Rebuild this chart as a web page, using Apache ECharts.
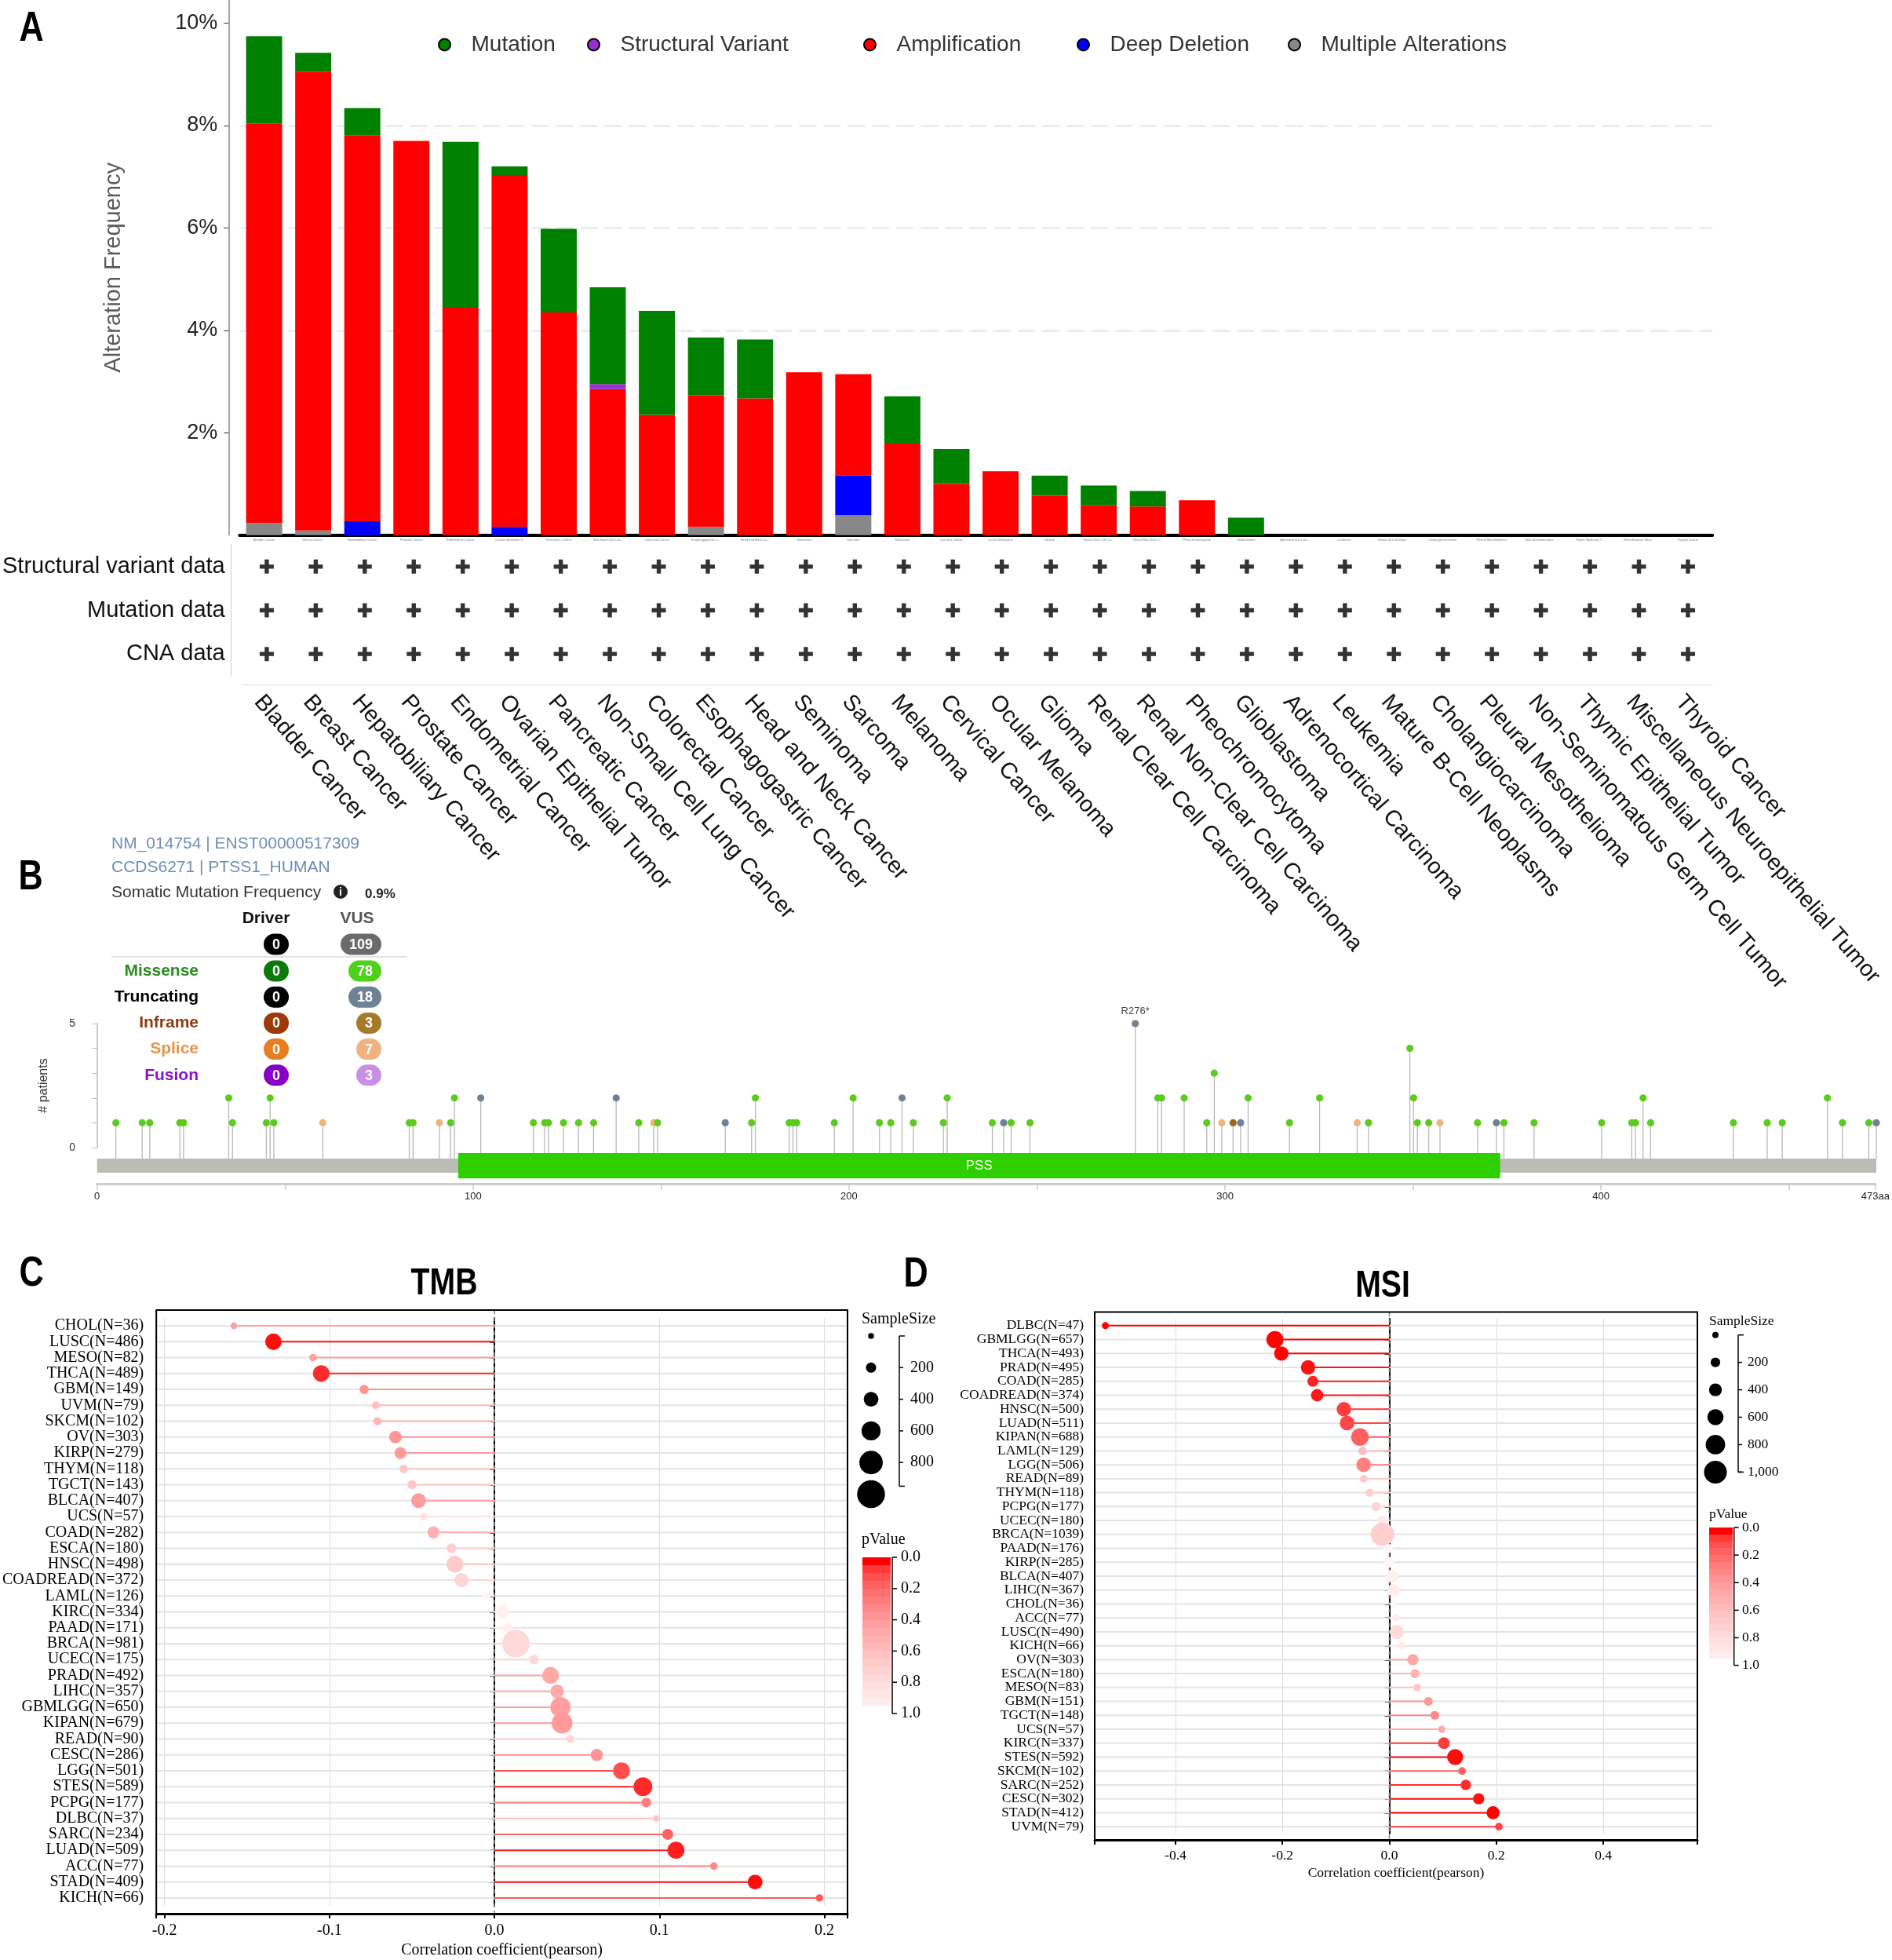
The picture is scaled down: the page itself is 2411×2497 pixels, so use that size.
<!DOCTYPE html>
<html>
<head>
<meta charset="utf-8">
<script src="https://cdn.jsdelivr.net/npm/echarts@6/dist/echarts.min.js"></script>
<style>
html,body{margin:0;padding:0;background:#fff;}
#chart{width:2411px;height:2497px;}
</style>
</head>
<body>
<div id="chart"></div>
<script>
const SANS = 'Liberation Sans, Arial, sans-serif';
const SERIF = 'Liberation Serif, Times New Roman, serif';

// ---------------- Panel A data (alteration frequency, %) ----------------
const cancerTypes = ['Bladder Cancer','Breast Cancer','Hepatobiliary Cancer','Prostate Cancer','Endometrial Cancer','Ovarian Epithelial Tumor','Pancreatic Cancer','Non-Small Cell Lung Cancer','Colorectal Cancer','Esophagogastric Cancer','Head and Neck Cancer','Seminoma','Sarcoma','Melanoma','Cervical Cancer','Ocular Melanoma','Glioma','Renal Clear Cell Carcinoma','Renal Non-Clear Cell Carcinoma','Pheochromocytoma','Glioblastoma','Adrenocortical Carcinoma','Leukemia','Mature B-Cell Neoplasms','Cholangiocarcinoma','Pleural Mesothelioma','Non-Seminomatous Germ Cell Tumor','Thymic Epithelial Tumor','Miscellaneous Neuroepithelial Tumor','Thyroid Cancer'];
const mutationFreq = [1.71,0.37,0.54,0,3.24,0.17,1.63,1.89,2.03,1.13,1.15,0,0,0.92,0.68,0,0.39,0.39,0.30,0,0.34,0,0,0,0,0,0,0,0,0];
const structuralVariantFreq = [0,0,0,0,0,0,0,0.10,0,0,0,0,0,0,0,0,0,0,0,0,0,0,0,0,0,0,0,0,0,0];
const amplificationFreq = [7.79,8.96,7.53,7.70,4.44,6.87,4.35,2.85,2.35,2.57,2.67,3.18,1.97,1.79,1.00,1.25,0.77,0.58,0.56,0.68,0,0,0,0,0,0,0,0,0,0];
const deepDeletionFreq = [0,0,0.27,0,0,0.16,0,0,0,0,0,0,0.78,0,0,0,0,0,0,0,0,0,0,0,0,0,0,0,0,0];
const multipleAlterationsFreq = [0.24,0.09,0,0,0,0,0,0,0,0.16,0,0,0.39,0,0,0,0,0,0,0,0,0,0,0,0,0,0,0,0,0];
const alterationTypes = ['Mutation','Structural Variant','Amplification','Deep Deletion','Multiple Alterations'];
const alterationTicks = [2,4,6,8,10];
const profileRows = ['Structural variant data','Mutation data','CNA data'];

// ---------------- Panel B data (PTSS1 mutations) ----------------
const proteinLength = 473;
const domainNames = ['PSS'];
const domainStarts = [96];
const domainEnds = [373];
const mutPositions = [5,12,14,22,23,35,36,45,46,47,60,83,84,91,94,95,102,116,119,120,124,128,132,138,144,148,149,167,174,175,184,185,186,196,201,208,211,214,217,225,226,238,241,243,248,276,282,283,289,295,297,299,302,304,306,317,325,335,338,349,350,351,354,357,367,372,374,382,400,408,409,411,413,435,444,448,460,464,471,473];
const mutCounts    = [1,1,1,1,1,2,1,1,2,1,1,1,1,1,1,2,2,1,1,1,1,1,1,2,1,1,1,1,1,2,1,1,1,1,2,1,1,2,1,1,2,1,1,1,1,5,2,2,2,1,3,1,1,1,2,1,2,1,1,4,2,1,1,1,1,1,1,1,1,1,1,2,1,1,1,1,2,1,1,1];
const mutTypes     = ['M','M','M','M','M','M','M','M','M','M','S','M','M','S','M','M','T','M','M','M','M','M','M','T','M','S','M','T','M','M','M','M','M','M','M','M','M','T','M','M','M','M','T','M','M','T','M','M','M','M','M','S','I','T','M','M','M','S','M','M','M','M','M','S','M','T','M','M','M','M','M','M','M','M','M','M','M','M','M','T'];
const mutLabelPos = 276, mutLabelText = 'R276*';
const typeColors = {M:'#5ccb1e', T:'#6f8296', S:'#f0b37e', I:'#9c6a1f'};
const badgeRows = ['Missense','Truncating','Inframe','Splice','Fusion'];
const driverCounts = [0,0,0,0,0];
const vusCounts = [78,18,3,7,3];
const driverTotal = 0, vusTotal = 109;
const rowLabelColors = ['#2a8c1c','#000000','#8b3c13','#e8944a','#8a10d0'];
const driverBadgeColors = ['#0b7a0b','#000000','#9b3a0a','#e67e22','#8800c8'];
const vusBadgeColors = ['#4fd01a','#6e8296','#a57b2a','#f2b27f','#c98fe6'];

// ---------------- Panel C data (TMB) ----------------
const cTypes = ['CHOL','LUSC','MESO','THCA','GBM','UVM','SKCM','OV','KIRP','THYM','TGCT','BLCA','UCS','COAD','ESCA','HNSC','COADREAD','LAML','KIRC','PAAD','BRCA','UCEC','PRAD','LIHC','GBMLGG','KIPAN','READ','CESC','LGG','STES','PCPG','DLBC','SARC','LUAD','ACC','STAD','KICH'];
const cN = [36,486,82,489,149,79,102,303,279,118,143,407,57,282,180,498,372,126,334,171,981,175,492,357,650,679,90,286,501,589,177,37,234,509,77,409,66];
const cCorr = [-0.158,-0.134,-0.110,-0.105,-0.079,-0.072,-0.071,-0.060,-0.057,-0.055,-0.050,-0.046,-0.043,-0.037,-0.026,-0.024,-0.020,-0.005,0.005,0.008,0.013,0.024,0.034,0.038,0.040,0.041,0.046,0.062,0.077,0.090,0.092,0.098,0.105,0.110,0.133,0.158,0.197];
const cP = [0.41,0.004,0.41,0.03,0.35,0.57,0.52,0.36,0.38,0.61,0.63,0.40,0.80,0.50,0.68,0.65,0.72,0.97,0.93,0.92,0.75,0.75,0.45,0.47,0.40,0.38,0.72,0.35,0.10,0.03,0.25,0.62,0.15,0.015,0.30,0.003,0.12];

// ---------------- Panel D data (MSI) ----------------
const dTypes = ['DLBC','GBMLGG','THCA','PRAD','COAD','COADREAD','HNSC','LUAD','KIPAN','LAML','LGG','READ','THYM','PCPG','UCEC','BRCA','PAAD','KIRP','BLCA','LIHC','CHOL','ACC','LUSC','KICH','OV','ESCA','MESO','GBM','TGCT','UCS','KIRC','STES','SKCM','SARC','CESC','STAD','UVM'];
const dN = [47,657,493,495,285,374,500,511,688,129,506,89,118,177,180,1039,176,285,407,367,36,77,490,66,303,180,83,151,148,57,337,592,102,252,302,412,79];
const dCorr = [-0.531,-0.214,-0.202,-0.152,-0.143,-0.135,-0.085,-0.079,-0.055,-0.050,-0.048,-0.048,-0.037,-0.025,-0.014,-0.013,-0.002,-0.001,0.005,0.007,0.008,0.012,0.014,0.023,0.044,0.048,0.052,0.073,0.085,0.098,0.102,0.123,0.136,0.143,0.167,0.194,0.205];
const dP = [0.0001,0.0001,0.0001,0.005,0.02,0.01,0.06,0.08,0.15,0.58,0.27,0.65,0.68,0.73,0.86,0.68,0.98,0.98,0.92,0.90,0.97,0.92,0.77,0.86,0.44,0.52,0.64,0.37,0.30,0.47,0.06,0.003,0.17,0.03,0.004,0.0001,0.07];
const sizeLegendValues = [0,200,400,600,800,1000];
const pTicks = [0,0.2,0.4,0.6,0.8,1.0];

// ---------------- helpers ----------------
function pColor(p){ const g = Math.round(250*Math.sqrt(Math.min(1,Math.max(0,p)))); return 'rgb(255,'+g+','+g+')'; }
const sizeC = n => 7.5 + 0.028*n;
const sizeD = n => 8 + 0.021*n;
const C_XMIN = -0.205, C_XMAX = 0.214, D_XMIN = -0.551, D_XMAX = 0.576;
const tickFmt = v => Math.abs(v*10 - Math.round(v*10)) < 1e-6 ? v.toFixed(1) : '';

const G = [];
function txt(x, y, text, style, extra){
  G.push(Object.assign({type:'text', x:x, y:y, z:100, style:Object.assign({text:text, fill:'#000', fontFamily:SANS, fontSize:20, align:'left', verticalAlign:'middle'}, style||{})}, extra||{}));
}
function line(x1,y1,x2,y2,stroke,lw){ G.push({type:'line', z:100, shape:{x1,y1,x2,y2}, style:{stroke:stroke, lineWidth:lw}}); }
function badge(cx, cy, text, fill){
  const w = 22 + 10*String(text).length;
  G.push({type:'rect', z:100, shape:{x:cx-w/2, y:cy-13.5, width:w, height:27, r:13.5}, style:{fill:fill}});
  txt(cx, cy+1, String(text), {fill:'#fff', fontSize:18, fontWeight:'bold', align:'center'});
}

// Panel letters & titles
[['A',40,37],['B',39,1118],['C',40,1623],['D',1167,1624]].forEach(l => txt(l[1], l[2], l[0], {fontSize:54, fontWeight:'bold', align:'center'}, {scaleX:0.8}));
txt(566, 1635, 'TMB', {fontSize:49, fontWeight:'bold', align:'center'}, {scaleX:0.8});
txt(1762, 1638, 'MSI', {fontSize:49, fontWeight:'bold', align:'center'}, {scaleX:0.8});

// Panel B header table
txt(142, 1075, 'NM_014754 | ENST00000517309', {fontSize:21, fill:'#6f8db5'});
txt(142, 1105, 'CCDS6271 | PTSS1_HUMAN', {fontSize:21, fill:'#6f8db5'});
txt(142, 1137, 'Somatic Mutation Frequency', {fontSize:21, fill:'#333'});
G.push({type:'circle', z:100, shape:{cx:434, cy:1136, r:9}, style:{fill:'#222'}});
txt(434, 1137, 'i', {fontSize:14, fontWeight:'bold', fill:'#fff', align:'center'});
txt(465, 1139, '0.9%', {fontSize:17, fill:'#222', fontWeight:'bold'});
txt(339, 1170, 'Driver', {fontSize:21, fontWeight:'bold', fill:'#111', align:'center'});
txt(455, 1170, 'VUS', {fontSize:21, fontWeight:'bold', fill:'#555', align:'center'});
badge(352, 1203, driverTotal, '#000');
badge(486 - (22 + 10*String(vusTotal).length)/2, 1203, vusTotal, '#6b6b6b');
line(142, 1219, 519, 1219, '#e3e3e3', 2);
badgeRows.forEach((r, i) => {
  const y = 1237 + i*33.2;
  txt(253, y, r, {fontSize:21, fontWeight:'bold', fill:rowLabelColors[i], align:'right'});
  badge(352, y, driverCounts[i], driverBadgeColors[i]);
  badge(486 - (22 + 10*String(vusCounts[i]).length)/2, y, vusCounts[i], vusBadgeColors[i]);
});

// Sample size legend
function sizeLegend(c){
  txt(c.titleX, c.titleY, 'SampleSize', {fontFamily:SERIF, fontSize:c.fs});
  const yv = v => c.y0 + v*c.ppv;
  sizeLegendValues.forEach(v => G.push({type:'circle', z:100, shape:{cx:c.circleX, cy:yv(v), r:c.sizeFn(v)/2}, style:{fill:'#000'}}));
  line(c.bx, yv(c.bMin), c.bx, yv(c.bMax), '#000', 1.5);
  line(c.bx, yv(c.bMin), c.bx+7, yv(c.bMin), '#000', 1.5);
  line(c.bx, yv(c.bMax), c.bx+7, yv(c.bMax), '#000', 1.5);
  c.labels.forEach(v => { line(c.bx, yv(v), c.bx+5, yv(v), '#000', 1.5); txt(c.labelX, yv(v), v>=1000 ? v.toLocaleString('en-US') : String(v), {fontFamily:SERIF, fontSize:c.fs}); });
}
function colorBar(c){
  txt(c.titleX, c.titleY, 'pValue', {fontFamily:SERIF, fontSize:c.fs});
  const yv = p => c.y0 + p*c.ppu;
  const stops = [];
  const n = 19;
  for (let k=0;k<n;k++){ const col = pColor(k*0.05); stops.push({offset:k/n, color:col}); stops.push({offset:(k+1)/n, color:col}); }
  G.push({type:'rect', z:100, shape:{x:c.barX, y:yv(0), width:c.barW, height:yv(0.95)-yv(0)}, style:{fill:{type:'linear', x:0, y:0, x2:0, y2:1, colorStops:stops}}});
  line(c.axisX, yv(0), c.axisX, yv(1), '#000', 1.5);
  pTicks.forEach(p => { line(c.axisX, yv(p), c.axisX+6, yv(p), '#000', 1.5); txt(c.labelX, yv(p), p.toFixed(1), {fontFamily:SERIF, fontSize:c.fs}); });
}
sizeLegend({titleX:1098, titleY:1681, circleX:1110, y0:1702, ppv:0.2015, sizeFn:sizeC, bx:1146, bMin:0, bMax:950, labels:[200,400,600,800], labelX:1160, fs:20});
sizeLegend({titleX:2178, titleY:1683, circleX:2186, y0:1700.7, ppv:0.1747, sizeFn:sizeD, bx:2215, bMin:0, bMax:1000, labels:[200,400,600,800,1000], labelX:2227, fs:17.5});
colorBar({titleX:1098, titleY:1962, barX:1099, barW:36, y0:1984, ppu:199, axisX:1137, labelX:1148, fs:20});
colorBar({titleX:2178, titleY:1929, barX:2178, barW:30, y0:1946, ppu:175.6, axisX:2209.7, labelX:2220, fs:17.5});

// ---------------- series builders ----------------
function bgSeries(xi, xmin, xmax, n){
  return {type:'custom', xAxisIndex:xi, yAxisIndex:xi, silent:true, z:1,
    data: Array.from({length:n}, (_, i) => [0, i]), encode:{x:0, y:1},
    renderItem: (params, api) => {
      const i = api.value(1); const a = api.coord([xmin, i]), b = api.coord([xmax, i]);
      return {type:'line', shape:{x1:a[0], y1:a[1], x2:b[0], y2:b[1]}, style:{stroke:'#e4e4e4', lineWidth:2}};
    }};
}
function frameSeries(xi, off){
  return {type:'custom', xAxisIndex:xi, yAxisIndex:xi, silent:true, z:2, data:[[0,0]], encode:{x:0,y:1},
    renderItem: (params, api) => {
      const cs = params.coordSys; const z = api.coord([0, 0]);
      return {type:'group', children:[
        {type:'line', shape:{x1:z[0], y1:cs.y-off, x2:z[0], y2:cs.y+cs.height+off}, style:{stroke:'#7a7a7a', lineWidth:1.5, lineDash:[5,4]}},
        {type:'rect', shape:{x:cs.x, y:cs.y-off, width:cs.width, height:cs.height+2*off}, style:{fill:'none', stroke:'#000', lineWidth:2}}
      ]};
    }};
}
function lolliSeries(xi, corr, pv, ns, sizeFn){
  return {type:'custom', xAxisIndex:xi, yAxisIndex:xi, silent:true, z:3,
    data: corr.map((v, i) => [v, i, pv[i], ns[i]]), encode:{x:0, y:1},
    renderItem: (params, api) => {
      const v = api.value(0), i = api.value(1), p = api.value(2), n = api.value(3);
      const a = api.coord([0, i]), b = api.coord([v, i]); const col = pColor(p);
      return {type:'group', children:[
        {type:'line', shape:{x1:a[0], y1:a[1], x2:b[0], y2:b[1]}, style:{stroke:col, lineWidth:2}},
        {type:'circle', shape:{cx:b[0], cy:b[1], r:sizeFn(n)/2}, style:{fill:col}}
      ]};
    }};
}
function corrX(min, max, off, fs, gap, lm){
  return {type:'value', min:min, max:max, splitNumber:5, position:'bottom', offset:off,
    axisLine:{show:true, lineStyle:{color:'#000', width:3}}, axisTick:{show:true, length:6, lineStyle:{color:'#000', width:2}},
    axisLabel:{formatter:tickFmt, fontFamily:SERIF, fontSize:fs, color:'#000', margin:lm},
    splitLine:{show:true, lineStyle:{color:'#dcdcdc', width:1}},
    name:'Correlation coefficient(pearson)', nameLocation:'middle', nameGap:gap, nameTextStyle:{fontFamily:SERIF, fontSize:fs, color:'#000'}};
}
function corrY(types, ns, fs, margin){
  return {type:'category', inverse:true, data: types.map((t, i) => t + '(N=' + ns[i] + ')'),
    axisLine:{show:true, lineStyle:{color:'#000', width:2}}, axisTick:{show:true, alignWithLabel:true, interval:0, length:6, lineStyle:{color:'#000', width:2}},
    axisLabel:{interval:0, fontFamily:SERIF, fontSize:fs, color:'#000', margin:margin}, splitLine:{show:false}};
}

const barColors = {'Mutation':'#008000','Structural Variant':'#9932cc','Amplification':'#ff0000','Deep Deletion':'#0000ff','Multiple Alterations':'#888888'};
const stackOrder = [['Multiple Alterations', multipleAlterationsFreq],['Deep Deletion', deepDeletionFreq],['Amplification', amplificationFreq],['Structural Variant', structuralVariantFreq],['Mutation', mutationFreq]];
const legendIconCenters = [566, 756, 1108, 1380, 1649];

const plusData = [];
cancerTypes.forEach((c, i) => profileRows.forEach((r, j) => plusData.push([i, j])));

const option = {
  animation:false,
  backgroundColor:'#fff',
  textStyle:{fontFamily:SANS},
  graphic:{elements:G},
  legend: alterationTypes.map((name, k) => ({
    data:[name], left:legendIconCenters[k]-8, top:43, padding:0, icon:'circle', itemWidth:16, itemHeight:15,
    itemStyle:{borderColor:'#000', borderWidth:2}, selectedMode:false,
    textStyle:{fontSize:28, color:'#333', fontFamily:SANS, padding:[0,0,0,21]}
  })),
  grid:[
    {left:305.3, right:228.8, top:0, height:681.7},
    {left:305.3, right:228.8, top:694, height:167},
    {left:123.7, right:20, top:1304, height:158},
    {left:123.7, right:20, top:1490, height:18},
    {left:197, right:1331, top:1679, height:749},
    {left:1395, right:248, top:1680, height:656}
  ],
  xAxis:[
    {type:'category', gridIndex:0, data:cancerTypes, axisLine:{lineStyle:{color:'#000', width:4}}, axisTick:{show:false},
     axisLabel:{interval:0, fontSize:4, color:'#777', margin:4, width:40, overflow:'truncate'}},
    {type:'category', gridIndex:1, data:cancerTypes, position:'bottom', offset:11, axisLine:{lineStyle:{color:'#dddddd', width:1}}, axisTick:{show:false},
     axisLabel:{interval:0, rotate:-49, fontSize:29, color:'#111', margin:8, verticalAlign:'top', fontFamily:SANS}},
    {type:'value', gridIndex:2, min:0, max:proteinLength, show:false},
    {type:'value', gridIndex:3, min:0, max:proteinLength, interval:50, position:'bottom',
     axisLine:{lineStyle:{color:'#cccccc', width:3}}, axisTick:{length:8, lineStyle:{color:'#cccccc', width:1.5}},
     axisLabel:{fontSize:13, color:'#222', margin:10, showMaxLabel:true, formatter: v => v === proteinLength ? proteinLength + 'aa' : (v % 100 === 0 ? String(v) : '')},
     splitLine:{show:false}},
    Object.assign(corrX(C_XMIN, C_XMAX, 10, 20, 37, 12), {gridIndex:4}),
    Object.assign(corrX(D_XMIN, D_XMAX, 8, 17.5, 33, 11), {gridIndex:5})
  ],
  yAxis:[
    {type:'value', gridIndex:0, min:0, max:10.45, interval:2, offset:14,
     axisLine:{show:true, lineStyle:{color:'#888', width:1.5}},
     axisTick:{show:true, length:6, lineStyle:{color:'#333'}, customValues:alterationTicks},
     axisLabel:{customValues:alterationTicks, formatter: v => (v > 0 && Math.abs(v % 2) < 1e-9) ? v + '%' : '', fontSize:27, color:'#222', margin:14},
     splitLine:{show:true, showMinLine:false, showMaxLine:false, lineStyle:{color:'#e8ebef', width:2.5, type:[22,9]}},
     name:'Alteration Frequency', nameLocation:'middle', nameGap:132, nameTextStyle:{fontSize:29, color:'#5a5a5a', fontFamily:SANS}},
    {type:'category', gridIndex:1, inverse:true, data:profileRows, offset:14, axisLine:{show:true, lineStyle:{color:'#cccccc'}}, axisTick:{show:false},
     axisLabel:{fontSize:29, color:'#111', margin:8}},
    {type:'value', gridIndex:2, min:0, max:5, interval:1, offset:15.7,
     axisLine:{show:true, lineStyle:{color:'#bbbbbb', width:1.5}}, axisTick:{show:true, length:6, lineStyle:{color:'#bbbbbb'}},
     axisLabel:{formatter: v => (v === 0 || v === 5) ? String(v) : '', fontSize:14, color:'#333', margin:12},
     splitLine:{show:false}, name:'# patients', nameLocation:'middle', nameGap:44, nameTextStyle:{fontSize:16, color:'#333'}},
    {type:'value', gridIndex:3, show:false},
    Object.assign(corrY(cTypes, cN, 20, 16), {gridIndex:4}),
    Object.assign(corrY(dTypes, dN, 17.5, 14), {gridIndex:5})
  ],
  series:[
    ...stackOrder.map(s => ({type:'bar', name:s[0], xAxisIndex:0, yAxisIndex:0, stack:'alt', barWidth:'73.5%', data:s[1], itemStyle:{color:barColors[s[0]]}, silent:true})),
    {type:'scatter', xAxisIndex:1, yAxisIndex:1, data:plusData, symbol:'path://M7,0H13V7H20V13H13V20H7V13H0V7H7Z', symbolSize:18, itemStyle:{color:'#000'}, silent:true},
    {type:'custom', xAxisIndex:2, yAxisIndex:2, silent:true, z:3,
     data: mutPositions.map((p, i) => [p, mutCounts[i]]), encode:{x:0, y:1},
     renderItem:(params, api) => {
       const pos = api.value(0), cnt = api.value(1), idx = params.dataIndex;
       const top = api.coord([pos, cnt]), base = api.coord([pos, -0.44]);
       const ch = [
         {type:'line', shape:{x1:base[0], y1:base[1], x2:top[0], y2:top[1]}, style:{stroke:'#b8b8b8', lineWidth:1.3}},
         {type:'circle', shape:{cx:top[0], cy:top[1], r:4.6}, style:{fill:typeColors[mutTypes[idx]]}}
       ];
       if (pos === mutLabelPos) ch.push({type:'text', x:top[0], y:top[1]-9, style:{text:mutLabelText, align:'center', verticalAlign:'bottom', fontSize:13, fill:'#444', fontFamily:SANS}});
       return {type:'group', children:ch};
     }},
    {type:'custom', xAxisIndex:2, yAxisIndex:2, silent:true, z:4,
     data: [[0, proteinLength, -1]].concat(domainStarts.map((s, i) => [s, domainEnds[i], i])), encode:{x:0, y:1},
     renderItem:(params, api) => {
       const s = api.value(0), e = api.value(1), k = api.value(2);
       const isDom = k >= 0;
       const p1 = api.coord([s, isDom ? -0.22 : -0.44]), p2 = api.coord([e, isDom ? -1.24 : -1.01]);
       const ch = [{type:'rect', shape:{x:p1[0], y:p1[1], width:p2[0]-p1[0], height:p2[1]-p1[1]}, style:{fill: isDom ? '#2ecf00' : '#bbbcb6'}}];
       if (isDom) ch.push({type:'text', x:(p1[0]+p2[0])/2, y:(p1[1]+p2[1])/2, style:{text:domainNames[k], fill:'#fff', fontSize:17, align:'center', verticalAlign:'middle', fontFamily:SANS}});
       return {type:'group', children:ch};
     }},
    bgSeries(4, C_XMIN, C_XMAX, cTypes.length),
    frameSeries(4, 10),
    lolliSeries(4, cCorr, cP, cN, sizeC),
    bgSeries(5, D_XMIN, D_XMAX, dTypes.length),
    frameSeries(5, 8.5),
    lolliSeries(5, dCorr, dP, dN, sizeD)
  ]
};

const chart = echarts.init(document.getElementById('chart'), null, {renderer:'canvas', width:2411, height:2497});
chart.setOption(option);
</script>
</body>
</html>
